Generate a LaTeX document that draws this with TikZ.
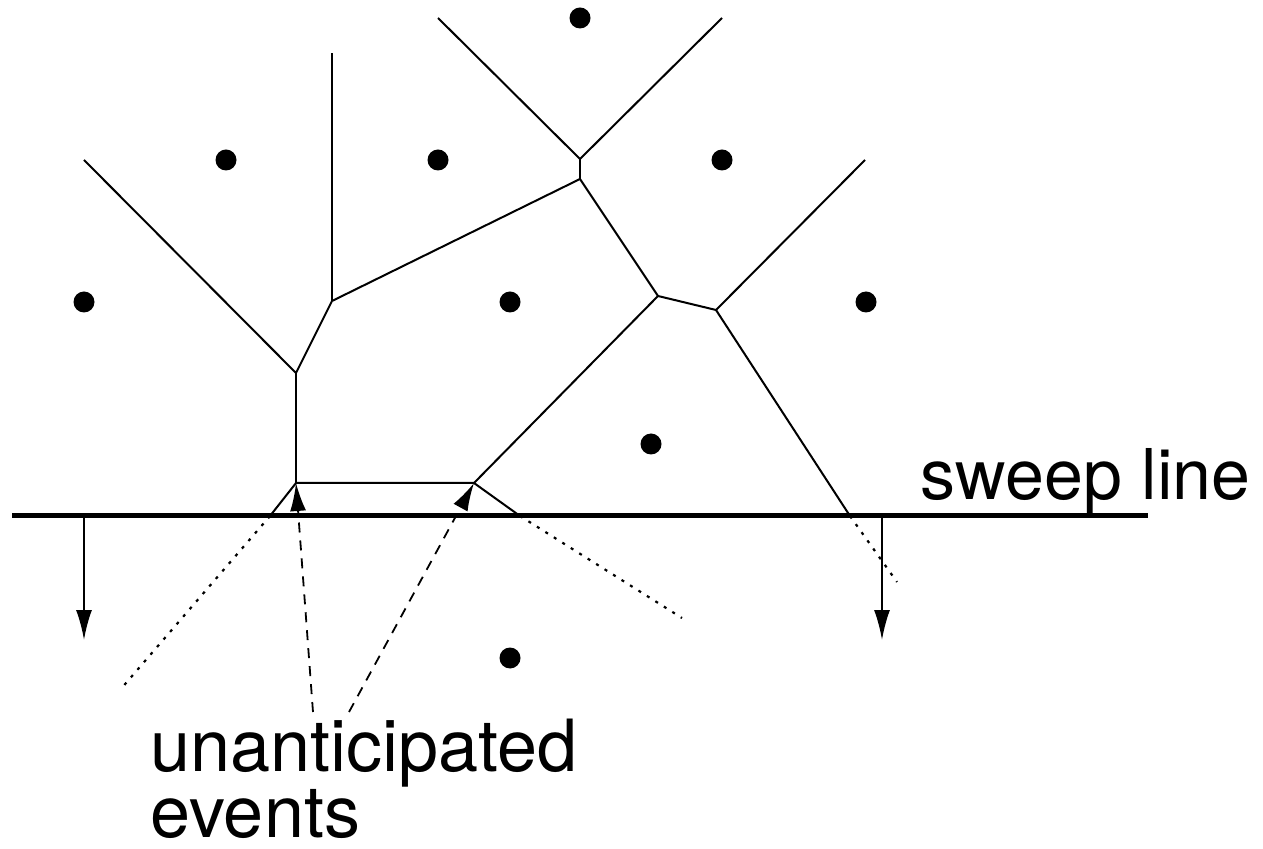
\documentclass[tikz,border=0pt]{standalone}
\usepackage{fontspec}
\setmainfont{TeX Gyre Heros}
\usetikzlibrary{arrows.meta}

\begin{document}
\begin{tikzpicture}[x=0.5pt, y=-0.5pt,
    edge/.style={line width=1pt},
    ray/.style={line width=1.1pt, dash pattern=on 1.5pt off 3.5pt},
    site/.style={circle, fill, inner sep=0pt, minimum size=10.5pt},
    big/.style={font=\fontsize{35pt}{28.5pt}\selectfont, inner sep=0pt}]
    \useasboundingbox (0,0) rectangle (1263,849);

    % sites
    \node[site] (s1) at (580,18) {};
    \node[site] (s2) at (226,160) {};
    \node[site] (s3) at (438,160) {};
    \node[site] (s4) at (722,160) {};
    \node[site] (s5) at (84,302) {};
    \node[site] (s6) at (510,302) {};
    \node[site] (s7) at (866,302) {};
    \node[site] (s8) at (651,444) {};
    \node[site] (s9) at (510,658) {};

    % voronoi vertices
    \coordinate (A) at (580,159);
    \coordinate (B) at (580,179);
    \coordinate (C) at (332,301);
    \coordinate (D) at (296,373);
    \coordinate (E) at (658,296);
    \coordinate (F) at (716,310);
    \coordinate (G) at (296,483);
    \coordinate (H) at (474,483);

    % ends of the edges
    \coordinate (T1) at (438,18);
    \coordinate (T2) at (722,18);
    \coordinate (T3) at (332,53);
    \coordinate (L1) at (84,160);
    \coordinate (R1) at (865,160);
    \coordinate (P) at (270,516);
    \coordinate (Q) at (520,516);
    \coordinate (R) at (850,516);
    \coordinate (P2) at (120,690);
    \coordinate (Q2) at (682,618);
    \coordinate (R2) at (897,582);

    \draw[edge] (T1) -- (A) -- (T2);
    \draw[edge] (A) -- (B);
    \draw[edge] (B) -- (C) -- (D) -- (L1);
    \draw[line width=1.3pt] (C) -- (T3);
    \draw[line width=1.3pt] (D) -- (G);
    \draw[edge] (B) -- (E) -- (F) -- (R1);
    \draw[edge] (E) -- (H);
    \draw[edge] (F) -- (R);
    \draw[edge] (P) -- (G) -- (H) -- (Q);

    \draw[ray] (P) -- (P2);
    \draw[ray] (Q) -- (Q2);
    \draw[ray] (R) -- (R2);

    % sweep line
    \coordinate (W1) at (12,516);
    \coordinate (W2) at (1148,516);
    \draw[line width=2.5pt] (W1) -- (W2);
    \node[big, anchor=base west] (sweep) at (920,500) {sweep line};

    \coordinate (M1) at (84,516);
    \coordinate (M2) at (84,640);
    \coordinate (N1) at (882,516);
    \coordinate (N2) at (882,640);
    \draw[line width=1pt, -{Latex[length=15pt, width=8pt]}] (M1) -- (M2);
    \draw[line width=1pt, -{Latex[length=15pt, width=8pt]}] (N1) -- (N2);

    % label
    \node[big, font=\fontsize{36pt}{28.5pt}\selectfont, anchor=base west,
        align=left] (events) at (150,837) {unanticipated\\events};
    \coordinate (e1) at (313,712);
    \coordinate (e2) at (349,712);
    \draw[line width=0.9pt, dash pattern=on 5pt off 4pt,
        -{Latex[length=14pt, width=8pt]}] (e1) -- (G);
    \draw[line width=0.9pt, dash pattern=on 5pt off 4pt,
        -{Latex[length=14pt, width=8pt]}] (e2) -- (H);
\end{tikzpicture}
\end{document}
